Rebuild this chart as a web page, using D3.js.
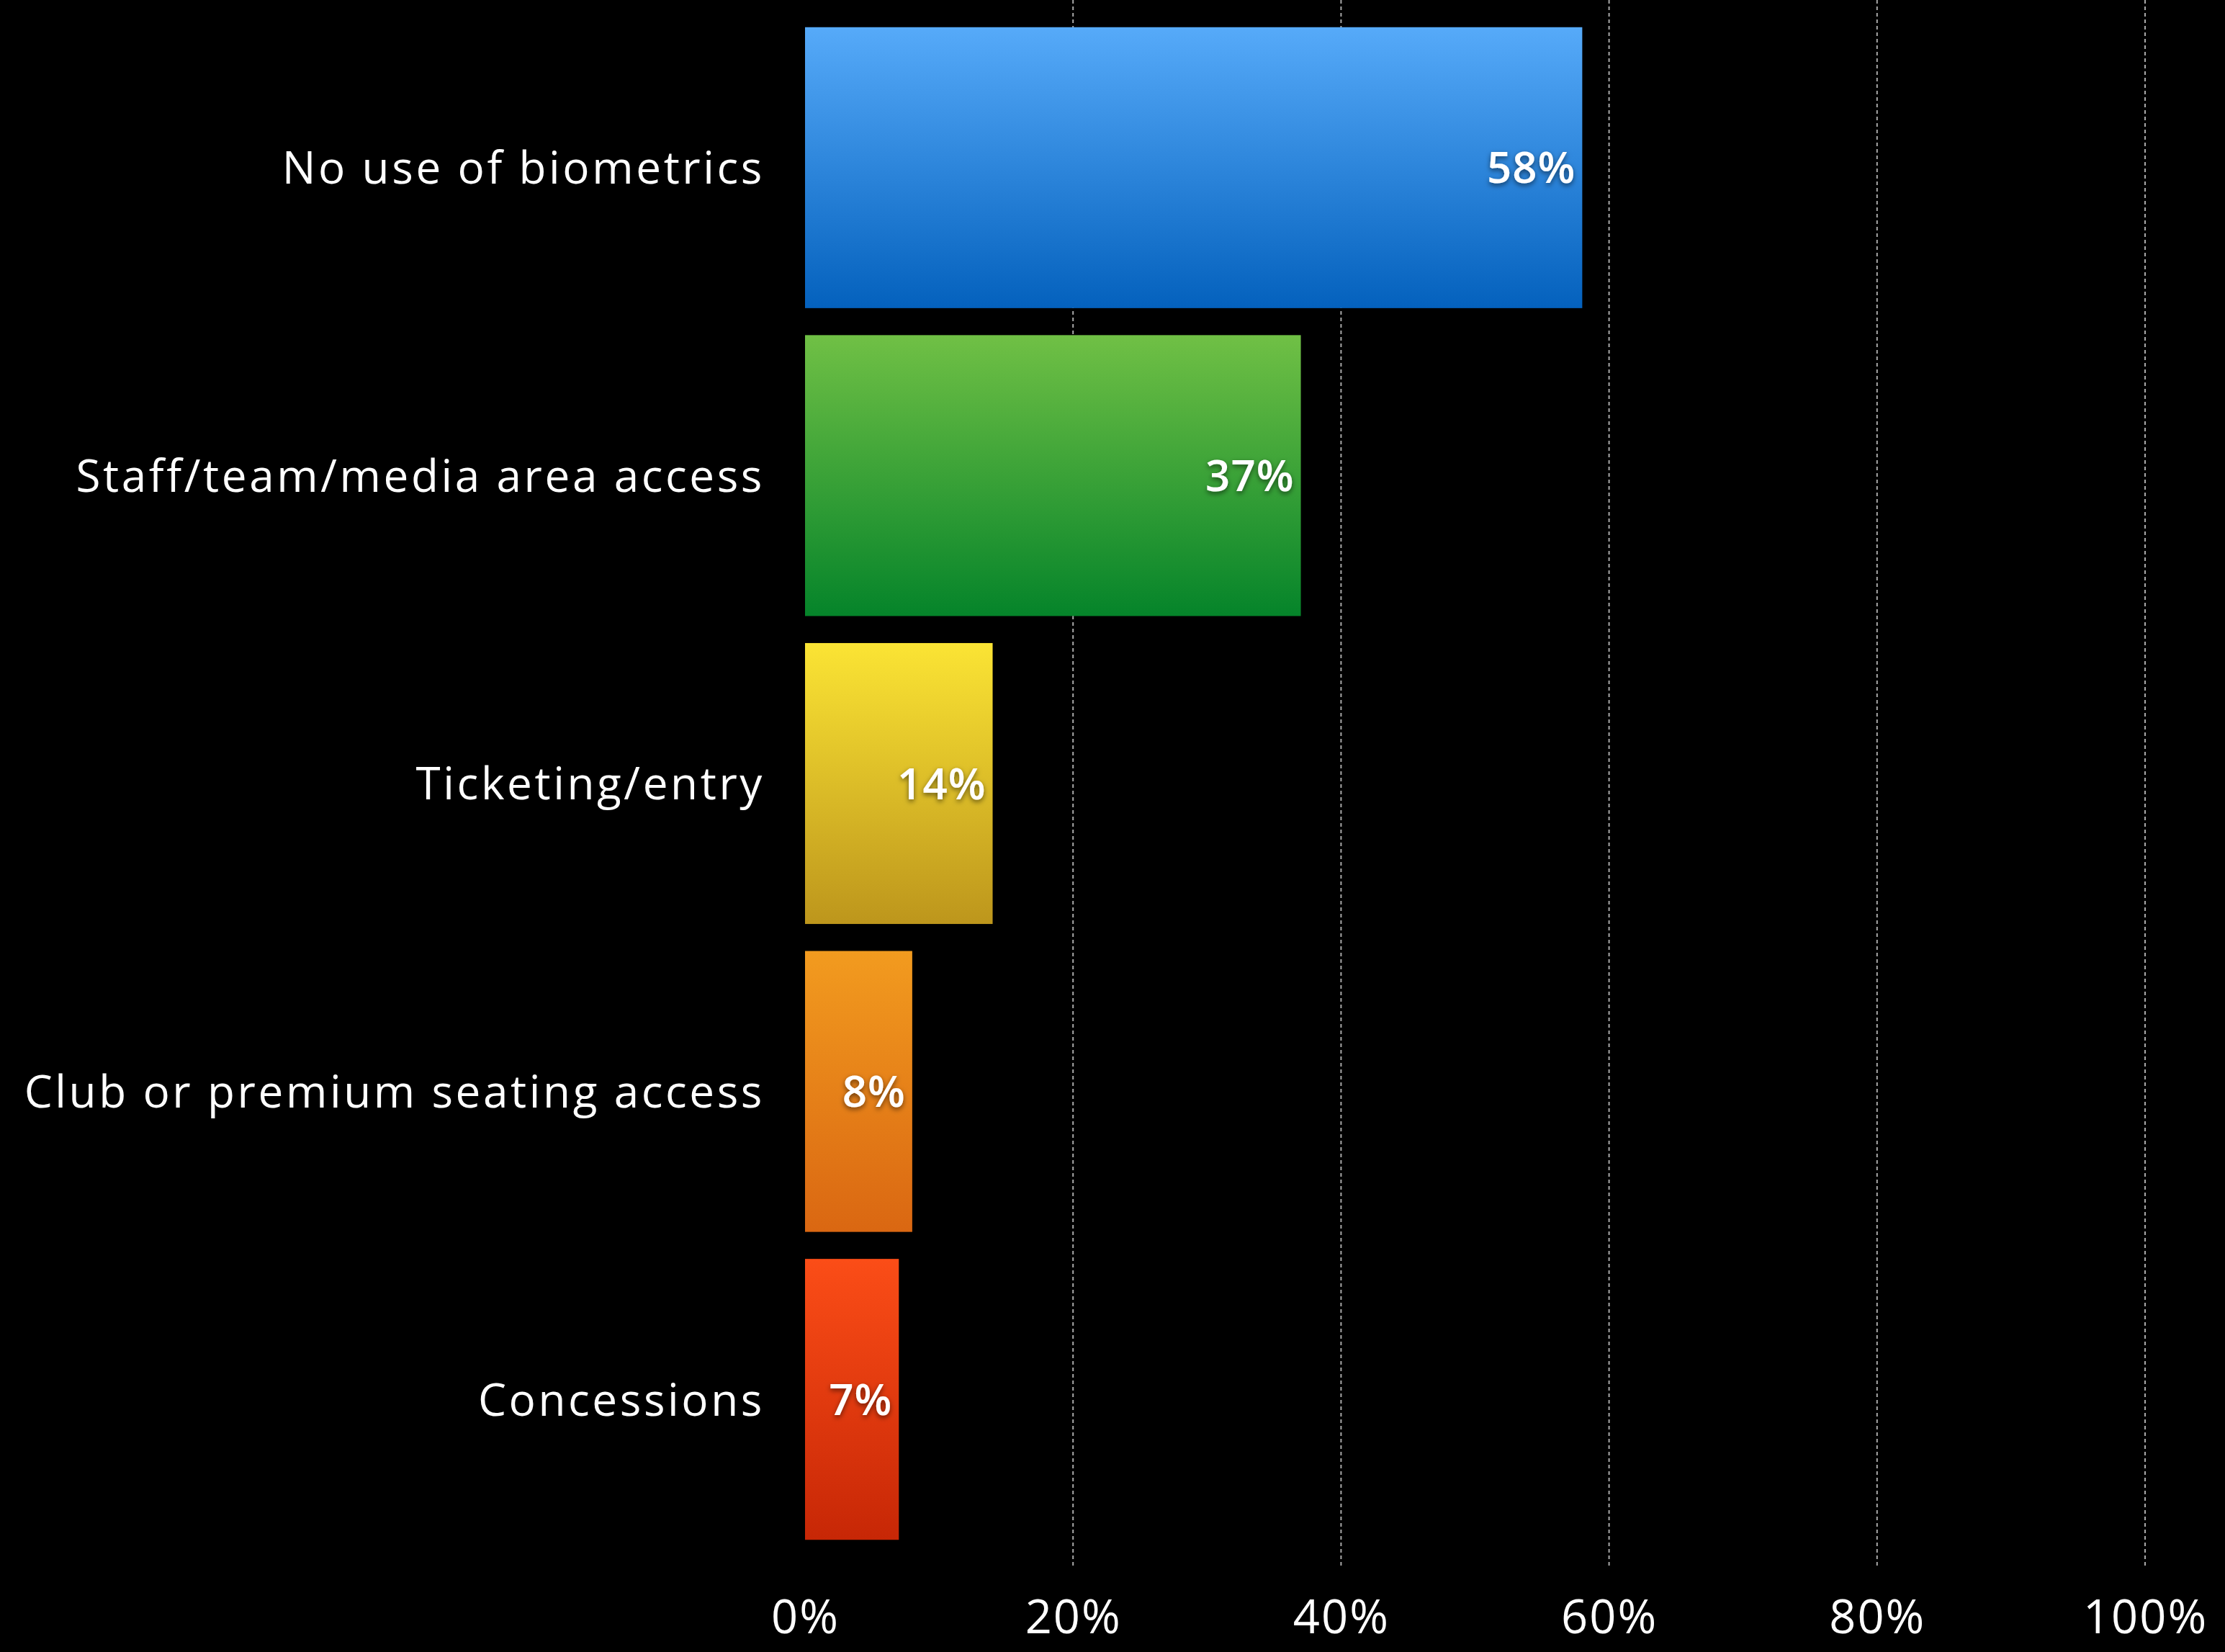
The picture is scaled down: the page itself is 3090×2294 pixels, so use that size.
<!DOCTYPE html>
<html>
<head>
<meta charset="utf-8">
<script src="https://cdn.jsdelivr.net/npm/d3@7"></script>
<style>
  html, body { margin: 0; padding: 0; background: #000; }
  svg { display: block; }
</style>
</head>
<body>
<script>
// Survey results: where biometrics are used at venues
const categories = [
  "No use of biometrics",
  "Staff/team/media area access",
  "Ticketing/entry",
  "Club or premium seating access",
  "Concessions"
];
const values = [58, 37, 14, 8, 7];
const tickValues = [0, 20, 40, 60, 80, 100];
const tickLabels = ["0%", "20%", "40%", "60%", "80%", "100%"];
const gradTop = ["#56aaf9", "#70c045", "#fbe434", "#f29b1f", "#fb4d17"];
const gradBottom = ["#0461bd", "#05842a", "#bd961c", "#da6712", "#c72706"];

const W = 3090, H = 2294;
const svg = d3.select("body").append("svg")
  .attr("width", W).attr("height", H)
  .style("background", "#000");

const defs = svg.append("defs");
categories.forEach((c, i) => {
  const g = defs.append("linearGradient")
    .attr("id", "grad" + i)
    .attr("x1", 0).attr("y1", 0).attr("x2", 0).attr("y2", 1);
  g.append("stop").attr("offset", "0%").attr("stop-color", gradTop[i]);
  g.append("stop").attr("offset", "100%").attr("stop-color", gradBottom[i]);
});
const shadow = defs.append("filter").attr("id", "txtShadow")
  .attr("x", "-20%").attr("y", "-30%").attr("width", "140%").attr("height", "170%");
shadow.append("feDropShadow")
  .attr("dx", 0).attr("dy", 3).attr("stdDeviation", 3.5)
  .attr("flood-color", "#000").attr("flood-opacity", 0.55);

const x = d3.scaleLinear().domain([0, 100]).range([1118, 2979]);
const y = d3.scaleBand().domain(categories).range([19, 2157])
  .paddingInner(0.0877).paddingOuter(0.0439);

const fontFamily = "'Open Sans', Lato, sans-serif";

// Dashed vertical gridlines
svg.append("g").selectAll("line")
  .data(tickValues.filter(v => v > 0))
  .join("line")
  .attr("x1", d => x(d)).attr("x2", d => x(d))
  .attr("y1", 0).attr("y2", 2178)
  .attr("stroke", "#a8a8a8")
  .attr("stroke-width", 2)
  .attr("stroke-dasharray", "5,4");

// Bars
svg.append("g").selectAll("rect")
  .data(values)
  .join("rect")
  .attr("x", x(0))
  .attr("y", (d, i) => y(categories[i]))
  .attr("width", d => x(d) - x(0))
  .attr("height", y.bandwidth())
  .attr("fill", (d, i) => `url(#grad${i})`);

// Category labels
svg.append("g").selectAll("text")
  .data(categories)
  .join("text")
  .attr("x", 1062)
  .attr("y", d => y(d) + y.bandwidth() / 2)
  .attr("dy", "0.36em")
  .attr("text-anchor", "end")
  .attr("fill", "#fff")
  .style("font-family", fontFamily)
  .style("font-size", "62px")
  .style("letter-spacing", "3.6px")
  .text(d => d);

// Value labels inside bars
svg.append("g").selectAll("text")
  .data(values)
  .join("text")
  .attr("x", d => x(d) - 9)
  .attr("y", (d, i) => y(categories[i]) + y.bandwidth() / 2)
  .attr("dy", "0.36em")
  .attr("text-anchor", "end")
  .attr("fill", "#fff")
  .attr("filter", "url(#txtShadow)")
  .style("font-family", fontFamily)
  .style("font-weight", 600)
  .style("font-size", "60px")
  .style("letter-spacing", "1px")
  .text(d => d + "%");

// Bottom axis labels
const axis = d3.axisBottom(x)
  .tickValues(tickValues)
  .tickFormat((d, i) => tickLabels[i])
  .tickSize(0)
  .tickPadding(0);
const ax = svg.append("g").attr("transform", "translate(0,2268)").call(axis);
ax.select(".domain").remove();
ax.selectAll("text")
  .attr("fill", "#fff")
  .attr("y", 0)
  .attr("dy", 0)
  .style("font-family", fontFamily)
  .style("font-size", "65px")
  .style("letter-spacing", "2px");
</script>
</body>
</html>
